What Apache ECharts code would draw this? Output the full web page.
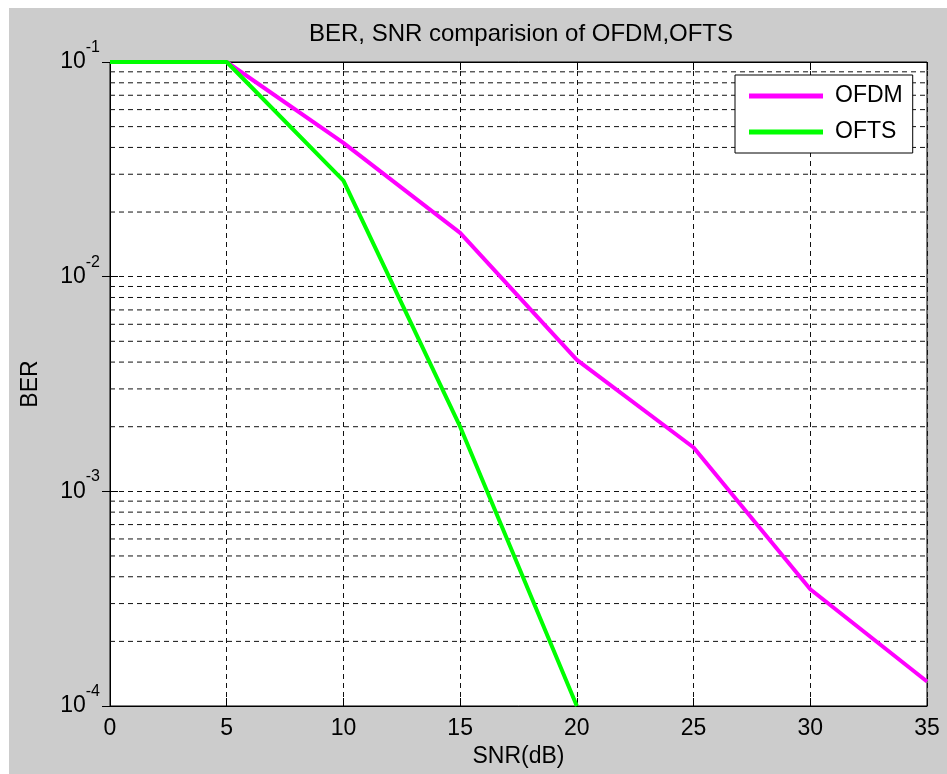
<!DOCTYPE html>
<html>
<head>
<meta charset="utf-8">
<script src="https://cdn.jsdelivr.net/npm/echarts@6/dist/echarts.min.js"></script>
<style>html,body{margin:0;padding:0;background:#fff}#c{width:947px;height:774px}</style>
</head>
<body>
<div id="c"></div>
<script>
// ---- data ----
var titleText = 'BER, SNR comparision of OFDM,OFTS';
var xName = 'SNR(dB)';
var yName = 'BER';
var seriesNames = ['OFDM', 'OFTS'];
var snrOFDM = [0, 5, 10, 15, 20, 25, 30, 35];
var berOFDM = [0.1, 0.1, 0.042, 0.016, 0.0041, 0.0016, 0.00035, 0.00013];
var snrOFTS = [0, 5, 10, 15, 20];
var berOFTS = [0.1, 0.1, 0.028, 0.002, 0.0001];
var xTicks = [0, 5, 10, 15, 20, 25, 30, 35];
var yDecades = [1e-4, 1e-3, 1e-2, 1e-1];
var minorGrid = [2e-4,3e-4,4e-4,5e-4,6e-4,7e-4,8e-4,9e-4,
                 2e-3,3e-3,4e-3,5e-3,6e-3,7e-3,8e-3,9e-3,
                 2e-2,3e-2,4e-2,5e-2,6e-2,7e-2,8e-2,9e-2];

var FONT = 'Arial, "Liberation Sans", sans-serif';
var dash = [5, 4];
var xMin = xTicks[0], xMax = xTicks[xTicks.length - 1];
function pairs(xs, ys) { return xs.map(function (x, i) { return [x, ys[i]]; }); }

var gridSeries = minorGrid.map(function (v) {
  return {
    name: '_g' + v, type: 'line', z: 1, silent: true, symbol: 'none',
    xAxisIndex: 0, yAxisIndex: 0,
    data: [[xMin, v], [xMax, v]],
    lineStyle: { color: '#111', width: 1, type: dash },
    emphasis: { disabled: true }, tooltip: { show: false }
  };
});

var chart = echarts.init(document.getElementById('c'));
var option = {
  backgroundColor: '#ffffff',
  animation: false,
  textStyle: { fontFamily: FONT },
  graphic: [{
    type: 'rect', z: -10, silent: true,
    shape: { x: 9, y: 8, width: 938, height: 766 },
    style: { fill: '#cccccc' }
  }],
  title: {
    text: titleText, left: 516, top: 17, textAlign: 'center',
    textStyle: { fontFamily: FONT, fontSize: 24, fontWeight: 'normal', color: '#000' }
  },
  legend: {
    data: seriesNames, orient: 'vertical', left: 735, top: 75, z: 20,
    padding: [9, 10, 9, 14], icon: 'rect', itemWidth: 74, itemHeight: 5, itemGap: 12,
    borderColor: '#000', borderWidth: 1, backgroundColor: '#fff',
    textStyle: { fontFamily: FONT, fontSize: 23, lineHeight: 24, color: '#000', padding: [0, 0, 0, 7] }
  },
  grid: {
    left: 110, right: 20, top: 62, bottom: 68, show: true,
    backgroundColor: '#fff', borderColor: '#000', borderWidth: 1
  },
  xAxis: [{
    type: 'value', min: xMin, max: xMax, interval: 5, position: 'bottom',
    name: xName, nameLocation: 'middle', nameGap: 37,
    nameTextStyle: { fontFamily: FONT, fontSize: 23, color: '#000' },
    axisLine: { show: true, lineStyle: { color: '#000', width: 1 } },
    axisTick: { show: true, inside: true, length: 8, lineStyle: { color: '#000' } },
    axisLabel: { fontFamily: FONT, fontSize: 23, color: '#000', margin: 11,
      formatter: function (v) { return xTicks.indexOf(v) >= 0 ? String(v) : ''; } },
    splitLine: { show: true, lineStyle: { color: '#111', width: 1, type: dash } }
  }, {
    type: 'value', min: xMin, max: xMax, interval: 5, position: 'top',
    axisLine: { show: true, lineStyle: { color: '#000', width: 1 } },
    axisTick: { show: true, inside: true, length: 8, lineStyle: { color: '#000' } },
    axisLabel: { show: false }, splitLine: { show: false }
  }],
  yAxis: [{
    type: 'log', logBase: 10, min: yDecades[0], max: yDecades[yDecades.length - 1],
    position: 'left',
    name: yName, nameLocation: 'middle', nameGap: 68, nameRotate: 90,
    nameTextStyle: { fontFamily: FONT, fontSize: 23, color: '#000' },
    axisLine: { show: true, lineStyle: { color: '#000', width: 1 } },
    axisTick: { show: true, inside: true, length: 8, lineStyle: { color: '#000' } },
    axisLabel: {
      margin: 10, padding: [0, 0, 11, 0], color: '#000',
      formatter: function (v) {
        var e = Math.round(Math.log10(v));
        return '{b|10}{s|' + e + '}';
      },
      rich: {
        b: { fontFamily: FONT, fontSize: 23, lineHeight: 23, color: '#000', verticalAlign: 'bottom' },
        s: { fontFamily: FONT, fontSize: 16, color: '#000', verticalAlign: 'top', padding: [0, 0, 18, 0] }
      }
    },
    splitLine: { show: true, lineStyle: { color: '#111', width: 1, type: dash } }
  }, {
    type: 'log', logBase: 10, min: yDecades[0], max: yDecades[yDecades.length - 1],
    position: 'right',
    axisLine: { show: true, lineStyle: { color: '#000', width: 1 } },
    axisTick: { show: true, inside: true, length: 8, lineStyle: { color: '#000' } },
    axisLabel: { show: false }, splitLine: { show: false }
  }],
  series: gridSeries.concat([{
    name: seriesNames[0], type: 'line', z: 3,
    data: pairs(snrOFDM, berOFDM),
    symbol: 'none', showSymbol: false,
    lineStyle: { color: '#ff00ff', width: 4 }, itemStyle: { color: '#ff00ff' }
  }, {
    name: seriesNames[1], type: 'line', z: 4,
    data: pairs(snrOFTS, berOFTS),
    symbol: 'none', showSymbol: false,
    lineStyle: { color: '#00ff00', width: 4 }, itemStyle: { color: '#00ff00' }
  }])
};
chart.setOption(option);
</script>
</body>
</html>
